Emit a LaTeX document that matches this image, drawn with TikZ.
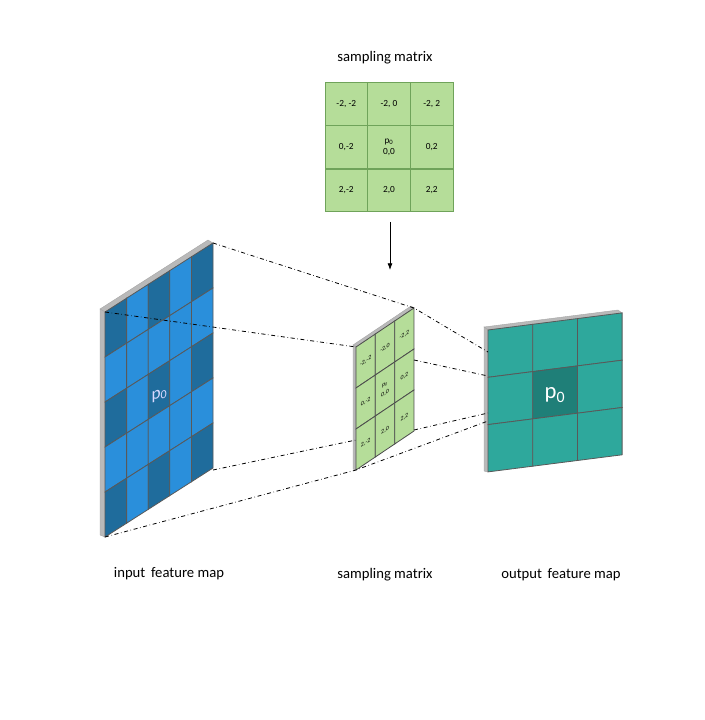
\documentclass[tikz,border=0pt]{standalone}
\usepackage{fontspec}
\setmainfont{Carlito}
\usetikzlibrary{arrows.meta}
\definecolor{bluelight}{HTML}{2A8FDB}
\definecolor{bluedark}{HTML}{1F6C9C}
\definecolor{greencell}{HTML}{B5DD99}
\definecolor{greenline}{HTML}{6FA35A}
\definecolor{tealcell}{HTML}{2EA89C}
\definecolor{tealdark}{HTML}{1F7F78}
\begin{document}
\begin{tikzpicture}
		[x=0.75pt,y=-0.75pt,
		cellline/.style={draw=gray!70!black,line width=0.6pt},
		rim/.style={fill=gray!55,draw=gray!70,line width=0.3pt},
		link/.style={-,dash dot,line width=0.6pt},
		label/.style={font=\fontsize{11}{12}\selectfont},
		tag/.style={font=\fontsize{7}{8}\selectfont,align=center,inner sep=0pt},
		tilt/.style={tag,font=\fontsize{4.5}{7}\selectfont,yslant=0.67}]
		\useasboundingbox (0,0) rectangle (704,720);
		% input feature map
		\coordinate (inTL) at (105,312);
		\coordinate (inTR) at (213,243);
		\coordinate (inBR) at (213,470);
		\coordinate (inBL) at (105,537);
		\fill[rim] (inTL) -- (inTR) -- ++(-5,-3) -- (100,309) -- cycle;
		\fill[rim] (inTL) -- (inBL) -- ++(-5,-2) -- (100,309) -- cycle;
		\foreach \c in {0,...,4}
			\foreach \r in {0,...,4}{
				\pgfmathsetmacro\shade{(mod(\c,2)==0 && mod(\r,2)==0) ? 1 : 0}
				\ifdim\shade pt>0.5pt \def\cellcol{bluedark}\else\def\cellcol{bluelight}\fi
				\filldraw[cellline,fill=\cellcol]
					(105+21.6*\c,312-13.8*\c+45*\r) -- ++(21.6,-13.8) -- ++(0,45) -- ++(-21.6,13.8) -- cycle;
			}
		\node[font=\fontsize{13}{14}\selectfont,text=white!85!blue,yslant=0.3] (p0in) at (159.5,395) {p\textsubscript{0}};
		% middle sampling matrix
		\coordinate (midTL) at (356,347);
		\coordinate (midTR) at (414,308);
		\coordinate (midBR) at (414,430);
		\coordinate (midBL) at (356,470);
		\fill[rim] (midTL) -- (midTR) -- ++(-3,-2) -- (353,345) -- cycle;
		\fill[rim] (midTL) -- (midBL) -- ++(-3,-1) -- (353,345) -- cycle;
		\foreach \c in {0,1,2}
			\foreach \r in {0,1,2}
				\filldraw[cellline,draw=gray!60!black,fill=greencell]
					(356+19.33*\c,347-13*\c+41*\r) -- ++(19.33,-13) -- ++(0,41) -- ++(-19.33,13) -- cycle;
		\foreach \lab [count=\i from 0] in {{-2,-2},{-2,0},{-2,2},{0,-2},{p\textsubscript{0}\\0,0},{0,2},{2,-2},{2,0},{2,2}}{
			\pgfmathtruncatemacro\r{\i/3}
			\pgfmathtruncatemacro\c{mod(\i,3)}
			\node[tilt] (mid-\i) at (365.7+19.33*\c,361-13*\c+41*\r) {\lab};
		}
		% output feature map
		\coordinate (outTL) at (488,330);
		\coordinate (outTR) at (622,313);
		\coordinate (outBL) at (488,472);
		\fill[rim] (outTL) -- (outTR) -- ++(-4,-3) -- (484,327) -- cycle;
		\fill[rim] (outTL) -- (outBL) -- ++(-4,-1) -- (484,327) -- cycle;
		\foreach \c in {0,1,2}
			\foreach \r in {0,1,2}{
				\ifnum\numexpr\c*10+\r\relax=11 \def\cellcol{tealdark}\else\def\cellcol{tealcell}\fi
				\filldraw[cellline,fill=\cellcol]
					(488+44.7*\c,330-5.7*\c+47.3*\r) -- ++(44.7,-5.7) -- ++(0,47.3) -- ++(-44.7,5.7) -- cycle;
			}
		\node[font=\fontsize{17}{18}\selectfont,text=white] (p0out) at (555,395) {p\textsubscript{0}};
		% top sampling matrix
		\node[label] (topcap) at (385,58) {sampling matrix};
		\foreach \lab [count=\i from 0] in {{-2, -2},{-2, 0},{-2, 2},{0,-2},{p\textsubscript{0}\\0,0},{0,2},{2,-2},{2,0},{2,2}}{
			\pgfmathtruncatemacro\r{\i/3}
			\pgfmathtruncatemacro\c{mod(\i,3)}
			\node[tag,draw=greenline,fill=greencell,minimum width=32pt,minimum height=32pt]
				(top-\i) at (346.3+42.7*\c,103.7+43.3*\r) {\lab};
		}
		\coordinate (arrowtop) at (390,222);
		\coordinate (arrowtip) at (390,270);
		\draw[-{Latex[length=5pt]},line width=0.6pt] (arrowtop) -- (arrowtip);
		% connectors
		\coordinate (outL1) at (488,352);
		\coordinate (outL2) at (488,376);
		\coordinate (outL3) at (488,413);
		\coordinate (outL4) at (488,421);
		\coordinate (midR1) at (414,360);
		\coordinate (midL3) at (356,440);
		\draw[link] (inTR) -- (midTR) -- (outL1);
		\draw[link] (inTL) -- (midTL);
		\draw[link] (midR1) -- (outL2);
		\draw[link] (inBR) -- (midL3);
		\draw[link] (midBR) -- (outL3);
		\draw[link] (inBL) -- (midBL) -- (outL4);
		% captions
		\node[label] (incap) at (169,574) {input\, feature map};
		\node[label] (midcap) at (385,575) {sampling matrix};
		\node[label] (outcap) at (561,575) {output\, feature map};
	\end{tikzpicture}
\end{document}
